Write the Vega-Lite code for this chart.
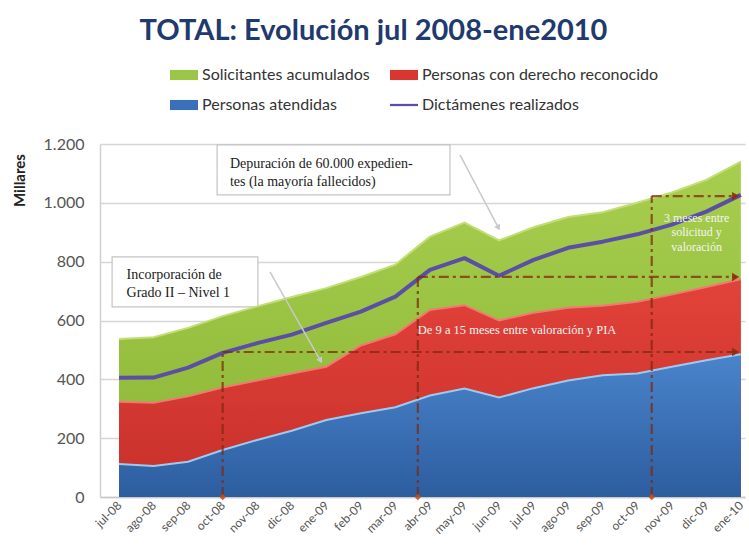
{
  "$schema": "https://vega.github.io/schema/vega-lite/v6.json",
  "width": 645,
  "height": 353,
  "autosize": {"type": "none"},
  "padding": {"left": 100, "top": 144, "right": 4, "bottom": 58},
  "background": "white",
  "config": {"view": {"stroke": null}},
  "title": {
    "text": "TOTAL: Evolución jul 2008-ene2010",
    "font": "Lato",
    "fontSize": 29,
    "fontWeight": "bold",
    "color": "#1f3a6e",
    "anchor": "middle",
    "frame": "group",
    "dx": -49,
    "dy": -3,
    "offset": 12
  },
  "datasets": {
    "meses": [
      {"i": 0, "mes": "jul-08", "sol": 537, "der": 324, "ate": 112, "dic": 405},
      {"i": 1, "mes": "ago-08", "sol": 543, "der": 320, "ate": 105, "dic": 406},
      {"i": 2, "mes": "sep-08", "sol": 575, "der": 342, "ate": 120, "dic": 440},
      {"i": 3, "mes": "oct-08", "sol": 615, "der": 372, "ate": 160, "dic": 490},
      {"i": 4, "mes": "nov-08", "sol": 648, "der": 396, "ate": 194, "dic": 523},
      {"i": 5, "mes": "dic-08", "sol": 680, "der": 420, "ate": 225, "dic": 552},
      {"i": 6, "mes": "ene-09", "sol": 710, "der": 443, "ate": 262, "dic": 592},
      {"i": 7, "mes": "feb-09", "sol": 748, "der": 515, "ate": 285, "dic": 630},
      {"i": 8, "mes": "mar-09", "sol": 790, "der": 553, "ate": 305, "dic": 681},
      {"i": 9, "mes": "abr-09", "sol": 885, "der": 636, "ate": 345, "dic": 772},
      {"i": 10, "mes": "may-09", "sol": 933, "der": 652, "ate": 369, "dic": 812},
      {"i": 11, "mes": "jun-09", "sol": 872, "der": 600, "ate": 338, "dic": 752},
      {"i": 12, "mes": "jul-09", "sol": 917, "der": 626, "ate": 370, "dic": 806},
      {"i": 13, "mes": "ago-09", "sol": 952, "der": 643, "ate": 396, "dic": 847},
      {"i": 14, "mes": "sep-09", "sol": 968, "der": 650, "ate": 414, "dic": 868},
      {"i": 15, "mes": "oct-09", "sol": 1000, "der": 664, "ate": 420, "dic": 893},
      {"i": 16, "mes": "nov-09", "sol": 1035, "der": 688, "ate": 443, "dic": 926},
      {"i": 17, "mes": "dic-09", "sol": 1078, "der": 714, "ate": 465, "dic": 970},
      {"i": 18, "mes": "ene-10", "sol": 1140, "der": 740, "ate": 485, "dic": 1027}
    ],
    "series": [
      {"serie": "Solicitantes acumulados"},
      {"serie": "Personas con derecho reconocido"},
      {"serie": "Personas atendidas"},
      {"serie": "Dictámenes realizados"}
    ],
    "cajas": [
      {"x1": -0.2, "x2": 4.02, "y1": 646, "y2": 816},
      {"x1": 2.84, "x2": 9.58, "y1": 1027, "y2": 1197}
    ],
    "guias": [
      {"x1": 3, "y1": 0, "x2": 3, "y2": 493},
      {"x1": 3, "y1": 493, "x2": 17.85, "y2": 493},
      {"x1": 8.65, "y1": 0, "x2": 8.65, "y2": 748},
      {"x1": 8.65, "y1": 748, "x2": 17.85, "y2": 748},
      {"x1": 15.42, "y1": 0, "x2": 15.42, "y2": 1023},
      {"x1": 15.42, "y1": 1023, "x2": 17.85, "y2": 1023}
    ],
    "flechas": [
      {"x1": 4.37, "y1": 765, "x2": 5.82, "y2": 466},
      {"x1": 9.87, "y1": 1163, "x2": 10.97, "y2": 918}
    ],
    "notas": [
      {"tipo": "caja", "x": 0.22, "y": 741, "texto": "Incorporación de\nGrado II – Nivel 1"},
      {"tipo": "caja", "x": 3.21, "y": 1119, "texto": "Depuración de 60.000 expedien-\ntes (la mayoría fallecidos)"},
      {"tipo": "blanca", "x": 8.65, "y": 554, "texto": "De 9 a 15 meses entre valoración y PIA"},
      {"tipo": "centro", "x": 16.72, "y": 935, "texto": "3 meses entre\nsolicitud y\nvaloración"}
    ]
  },
  "encoding": {
    "x": {
      "type": "quantitative",
      "scale": {"domain": [-0.55, 18.12], "nice": false, "zero": false},
      "axis": {
        "title": null,
        "values": [0, 1, 2, 3, 4, 5, 6, 7, 8, 9, 10, 11, 12, 13, 14, 15, 16, 17, 18],
        "labelExpr": "['jul-08','ago-08','sep-08','oct-08','nov-08','dic-08','ene-09','feb-09','mar-09','abr-09','may-09','jun-09','jul-09','ago-09','sep-09','oct-09','nov-09','dic-09','ene-10'][datum.value]",
        "labelAngle": -45,
        "labelAlign": "right",
        "labelBaseline": "middle",
        "labelPadding": 6,
        "labelOverlap": false,
        "labelBound": false,
        "labelFlush": false,
        "labelFont": "Lato",
        "labelFontSize": 12,
        "labelColor": "#555555",
        "ticks": false,
        "grid": false,
        "domainColor": "#c8c8c8",
        "domainWidth": 1.5
      }
    },
    "y": {
      "type": "quantitative",
      "scale": {"domain": [0, 1200], "nice": false},
      "axis": {
        "title": "Millares",
        "titleFont": "Lato",
        "titleFontSize": 15,
        "titleFontWeight": "bold",
        "titleColor": "#222222",
        "titleAngle": 270,
        "titleAlign": "center",
        "titleBaseline": "middle",
        "titleX": -81,
        "titleY": 36,
        "values": [0, 200, 400, 600, 800, 1000, 1200],
        "labelExpr": "replace(format(datum.value, ','), ',', '.')",
        "labelFont": "Lato",
        "labelFontSize": 16,
        "labelColor": "#555555",
        "labelPadding": 16,
        "labelOverlap": false,
        "ticks": false,
        "grid": true,
        "gridColor": "#d6d6d6",
        "gridWidth": 1.5,
        "domainColor": "#d0d0d0",
        "domainWidth": 1.5
      }
    }
  },
  "layer": [
    {
      "data": {"name": "cajas"},
      "mark": {"type": "rect", "fill": "white", "stroke": "#c4c4c4", "strokeWidth": 1.2},
      "encoding": {"x": {"field": "x1"}, "x2": {"field": "x2"}, "y": {"field": "y1"}, "y2": {"field": "y2"}}
    },
    {
      "data": {"name": "meses"},
      "mark": {"type": "area",
        "fill": {"gradient": "linear", "x1": 0, "y1": 0, "x2": 0, "y2": 1,
          "stops": [{"offset": 0, "color": "#a8ce4f"}, {"offset": 1, "color": "#8ab536"}]}},
      "encoding": {"x": {"field": "i"}, "y": {"field": "sol"}}
    },
    {
      "data": {"name": "meses"},
      "mark": {"type": "line", "color": "#c3de74", "strokeWidth": 2},
      "encoding": {"x": {"field": "i"}, "y": {"field": "sol"}}
    },
    {
      "data": {"name": "meses"},
      "mark": {"type": "area",
        "fill": {"gradient": "linear", "x1": 0, "y1": 0, "x2": 0, "y2": 1,
          "stops": [{"offset": 0, "color": "#e2423a"}, {"offset": 1, "color": "#c7302a"}]}},
      "encoding": {"x": {"field": "i"}, "y": {"field": "der"}}
    },
    {
      "data": {"name": "meses"},
      "mark": {"type": "line", "color": "#f07a72", "strokeWidth": 2},
      "encoding": {"x": {"field": "i"}, "y": {"field": "der"}}
    },
    {
      "data": {"name": "meses"},
      "mark": {"type": "area",
        "fill": {"gradient": "linear", "x1": 0, "y1": 0, "x2": 0, "y2": 1,
          "stops": [{"offset": 0, "color": "#4a84cc"}, {"offset": 1, "color": "#2c5d9f"}]}},
      "encoding": {"x": {"field": "i"}, "y": {"field": "ate"}}
    },
    {
      "data": {"name": "meses"},
      "mark": {"type": "line", "color": "#9ccaf0", "strokeWidth": 2},
      "encoding": {"x": {"field": "i"}, "y": {"field": "ate"}}
    },
    {
      "data": {"name": "meses"},
      "mark": {"type": "line", "color": "#5b4ea6", "strokeWidth": 4, "strokeJoin": "round"},
      "encoding": {"x": {"field": "i"}, "y": {"field": "dic"}}
    },
    {
      "data": {"name": "guias"},
      "mark": {"type": "rule", "color": "#7f2a0c", "opacity": 0.75, "strokeWidth": 2.2, "strokeDash": [10, 4, 3, 4]},
      "encoding": {"x": {"field": "x1"}, "x2": {"field": "x2"}, "y": {"field": "y1"}, "y2": {"field": "y2"}}
    },
    {
      "data": {"name": "guias"},
      "transform": [{"filter": "datum.y1 == datum.y2"}],
      "mark": {"type": "point", "shape": "triangle-right", "filled": true, "color": "#8a2e0c", "size": 70, "opacity": 0.9},
      "encoding": {"x": {"field": "x2"}, "y": {"field": "y2"}}
    },
    {
      "data": {"name": "guias"},
      "transform": [{"filter": "datum.y1 == 0"}],
      "mark": {"type": "point", "shape": "diamond", "filled": true, "color": "#c0501a", "size": 40, "opacity": 0.9},
      "encoding": {"x": {"field": "x1"}, "y": {"field": "y1"}}
    },
    {
      "data": {"name": "flechas"},
      "mark": {"type": "rule", "color": "#c9c9c9", "strokeWidth": 1.5},
      "encoding": {"x": {"field": "x1"}, "x2": {"field": "x2"}, "y": {"field": "y1"}, "y2": {"field": "y2"}}
    },
    {
      "data": {"name": "flechas"},
      "mark": {"type": "point", "shape": "triangle", "filled": true, "color": "#c9c9c9", "size": 45, "angle": 151, "opacity": 1},
      "encoding": {"x": {"field": "x2"}, "y": {"field": "y2"}}
    },
    {
      "data": {"name": "notas"},
      "transform": [{"filter": "datum.tipo == 'caja'"}],
      "mark": {"type": "text", "font": "Liberation Serif", "fontSize": 14, "color": "#1a1a1a", "align": "left", "baseline": "alphabetic", "lineBreak": "\n", "lineHeight": 18},
      "encoding": {"x": {"field": "x"}, "y": {"field": "y"}, "text": {"field": "texto"}}
    },
    {
      "data": {"name": "notas"},
      "transform": [{"filter": "datum.tipo == 'blanca'"}],
      "mark": {"type": "text", "font": "Liberation Serif", "fontSize": 12.5, "color": "#f4f4f4", "align": "left", "baseline": "alphabetic"},
      "encoding": {"x": {"field": "x"}, "y": {"field": "y"}, "text": {"field": "texto"}}
    },
    {
      "data": {"name": "notas"},
      "transform": [{"filter": "datum.tipo == 'centro'"}],
      "mark": {"type": "text", "font": "Liberation Serif", "fontSize": 12, "color": "#f4f4f4", "align": "center", "baseline": "alphabetic", "lineBreak": "\n", "lineHeight": 14.5},
      "encoding": {"x": {"field": "x"}, "y": {"field": "y"}, "text": {"field": "texto"}}
    },
    {
      "data": {"name": "series"},
      "mark": {"type": "square", "opacity": 0},
      "encoding": {
        "color": {
          "field": "serie",
          "type": "nominal",
          "scale": {
            "domain": ["Solicitantes acumulados", "Personas con derecho reconocido", "Personas atendidas", "Dictámenes realizados"],
            "range": ["#9cc645", "#d8362e", "#3a70b8", "#5b4ea6"]
          },
          "legend": {
            "orient": "none",
            "direction": "horizontal",
            "legendX": 70,
            "legendY": -83,
            "columns": 2,
            "columnPadding": 20,
            "rowPadding": 8,
            "title": null,
            "labelFont": "Lato",
            "labelFontSize": 16,
            "labelColor": "#333333",
            "labelOffset": 4,
            "labelLimit": 0,
            "symbolSize": 784,
            "symbolStrokeWidth": 0,
            "symbolOpacity": 1,
            "symbolType": "M-1,-0.36H1V0.36H-1Z",
            "encode": {
              "symbols": {
                "update": {
                  "opacity": {"value": 1},
                  "shape": {"signal": "datum.value === 'Dictámenes realizados' ? 'M-1,-0.08H1V0.08H-1Z' : 'M-1,-0.36H1V0.36H-1Z'"}
                }
              }
            }
          }
        }
      }
    }
  ]
}
